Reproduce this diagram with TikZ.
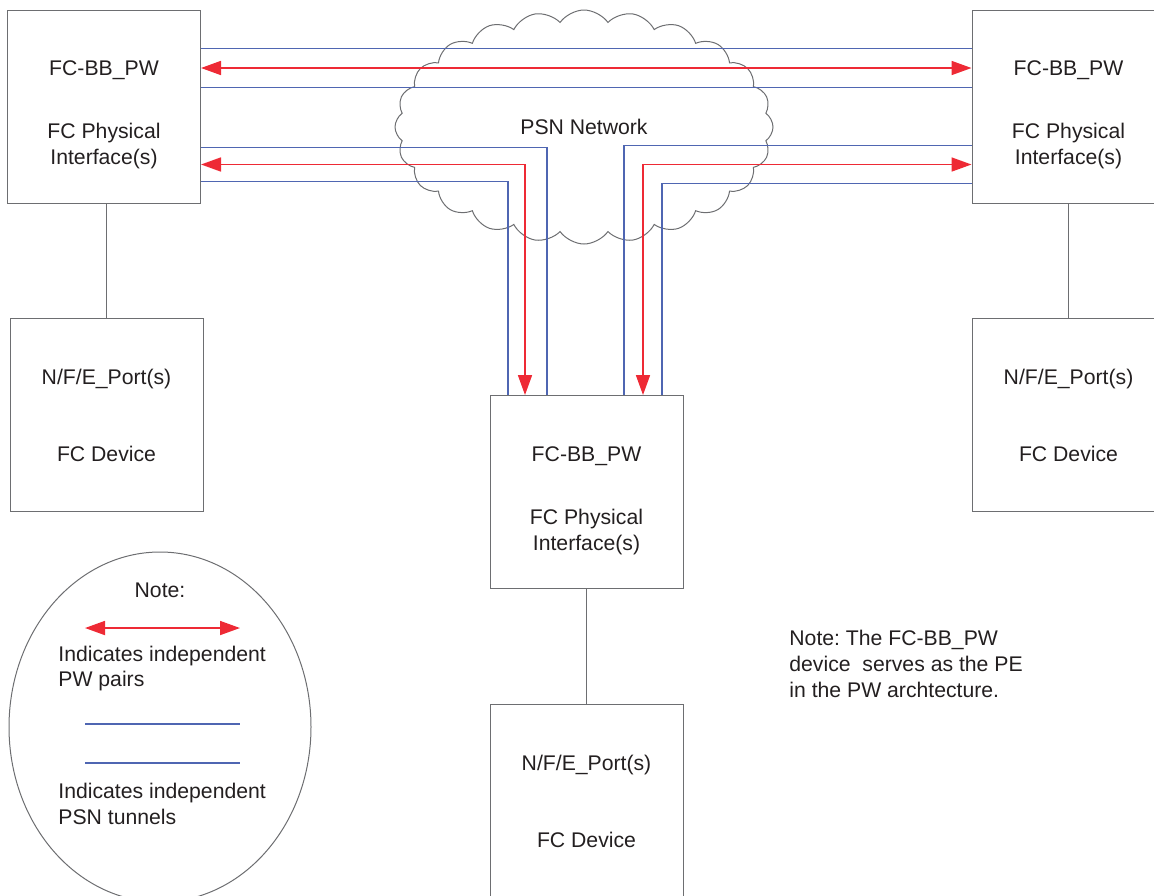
\documentclass[tikz,border=0pt]{standalone}
\usepackage{fontspec}
\setmainfont{Liberation Sans}
\frenchspacing
\usetikzlibrary{calc,arrows.meta,shapes.geometric,shapes.symbols}
\definecolor{Ink}{HTML}{231F20}
\definecolor{Frame}{HTML}{6D6E71}
\definecolor{Tunnel}{HTML}{4F66B2}
\definecolor{Pair}{HTML}{EE2A35}
\newcommand{\pwgap}{\rule{0pt}{15.8pt}}

\begin{document}
\begin{tikzpicture}[x=0.5pt,y=-0.5pt,font=\fontsize{10.6}{13}\selectfont,text=Ink,
  box/.style={draw=Frame,line width=0.5pt,minimum width=96.5pt,minimum height=96.5pt,inner sep=0pt,align=center},
  link/.style={draw=Frame,line width=0.5pt},
  tunnel/.style={draw=Tunnel,line width=0.85pt},
  pair/.style={draw=Pair,line width=0.85pt,{Triangle[length=10pt,width=7pt]}-{Triangle[length=10pt,width=7pt]}},
  legtext/.style={anchor=west,align=left,inner sep=0pt}]
\useasboundingbox (0,0) rectangle (1154,895);
\clip (0,0) rectangle (1154,895);

% PSN cloud
\node[cloud,draw=Frame,line width=0.5pt,cloud puffs=24,cloud puff arc=110,cloud ignores aspect,minimum width=189pt,minimum height=117pt,inner sep=0pt] (psn) at (584,127) {PSN Network};

% FC-BB_PW devices
\node[box] (pwl) at (104,106.5) {\pwgap FC-BB\_PW\\[18.5pt]FC Physical\\Interface(s)};
\node[box] (pwr) at (1068.5,106.5) {\pwgap FC-BB\_PW\\[18.5pt]FC Physical\\Interface(s)};
\node[box] (pwc) at (586.5,492) {\pwgap FC-BB\_PW\\[18.5pt]FC Physical\\Interface(s)};

% FC devices
\node[box] (devl) at (106.5,415) {N/F/E\_Port(s)\\[25.5pt]FC Device};
\node[box] (devr) at (1068.5,415) {N/F/E\_Port(s)\\[25.5pt]FC Device};
\node[box] (devc) at (586.5,801) {N/F/E\_Port(s)\\[25.5pt]FC Device};

\draw[link] (devl.north) -- (devl.north |- pwl.south);
\draw[link] (devr.north) -- (devr.north |- pwr.south);
\draw[link] (pwc.south) -- (devc.north);

% tunnels left <-> right
\draw[tunnel] ($(pwl.north east)+(0,39)$) -- ($(pwr.north west)+(0,39)$);
\draw[pair] ($(pwl.north east)+(0,58.5)$) -- ($(pwr.north west)+(0,58.5)$);
\draw[tunnel] ($(pwl.north east)+(0,78)$) -- ($(pwr.north west)+(0,78)$);

% tunnels left <-> centre
\draw[tunnel] ($(pwl.north east)+(0,138)$) -| ($(pwc.north)+(-39.5,0)$);
\draw[pair] ($(pwl.north east)+(0,155)$) -| ($(pwc.north)+(-61.5,0)$);
\draw[tunnel] ($(pwl.north east)+(0,172)$) -| ($(pwc.north)+(-78.5,0)$);

% tunnels right <-> centre
\draw[tunnel] ($(pwr.north west)+(0,136)$) -| ($(pwc.north)+(37.5,0)$);
\draw[pair] ($(pwr.north west)+(0,155)$) -| ($(pwc.north)+(56.5,0)$);
\draw[tunnel] ($(pwr.north west)+(0,174)$) -| ($(pwc.north)+(75.5,0)$);

% legend
\node[ellipse,draw=Frame,line width=0.5pt,minimum width=151pt,minimum height=175pt,inner sep=0pt] (legend) at (160,727) {};
\node (legtitle) at (160,590) {Note:};
\coordinate (pairA) at (85,628);
\coordinate (pairB) at (240,628);
\draw[pair] (pairA) -- (pairB);
\node[legtext] (pairtx) at (58,668.5) {Indicates independent\\PW pairs};
\coordinate (tunA) at (85,724);
\coordinate (tunB) at (240,724);
\coordinate (tunC) at (85,763);
\coordinate (tunD) at (240,763);
\draw[tunnel] (tunA) -- (tunB);
\draw[tunnel] (tunC) -- (tunD);
\node[legtext] (tuntx) at (58,803.5) {Indicates independent\\PSN tunnels};

% side note
\node[legtext] (petx) at (789,664) {Note: The FC-BB\_PW\\device\ \ serves as the PE\\in the PW archtecture.};
\end{tikzpicture}
\end{document}
